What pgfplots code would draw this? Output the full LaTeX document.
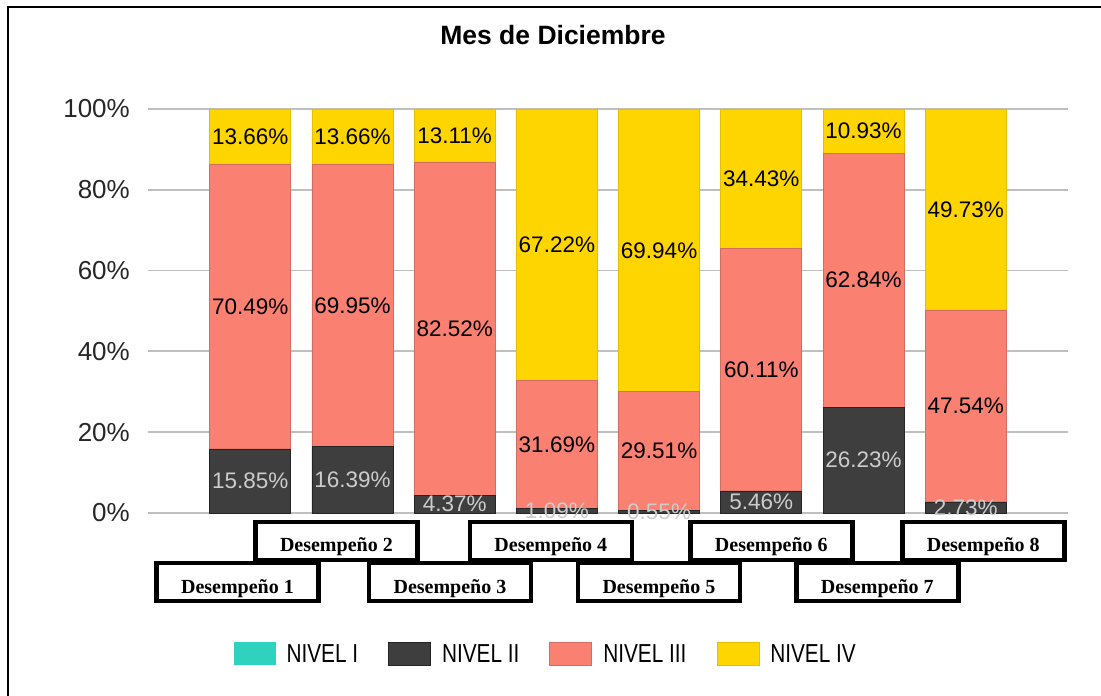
\documentclass[border=0pt]{standalone}
\usepackage{fontspec}
\setmainfont{Liberation Sans}
\newfontfamily\serifb{Liberation Serif}
\usepackage{graphicx}
\usepackage{pgfplots}
\usepackage{pgfplotstable}
\pgfplotsset{compat=1.18}
\definecolor{cI}{RGB}{47,210,190}
\definecolor{cII}{RGB}{62,62,62}
\definecolor{cIII}{RGB}{250,128,114}
\definecolor{cIV}{RGB}{255,213,0}

% values of each level
\pgfplotstableread{
x I II III IV
1 0 15.85 70.49 13.66
2 0 16.39 69.95 13.66
3 0 4.37 82.52 13.11
4 0 1.09 31.69 67.22
5 0 0.55 29.51 69.94
6 0 5.46 60.11 34.43
7 0 26.23 62.84 10.93
8 0 2.73 47.54 49.73
}\datatab

% label positions (middle of each segment) and label texts
\pgfplotstableread{
x m2 l2 m3 l3 m4 l4
1 7.925 15.85 51.095 70.49 93.17 13.66
2 8.195 16.39 51.365 69.95 93.17 13.66
3 2.185 4.37 45.63 82.52 93.445 13.11
4 0.545 1.09 16.935 31.69 66.39 67.22
5 0.275 0.55 15.305 29.51 65.03 69.94
6 2.73 5.46 35.515 60.11 82.785 34.43
7 13.115 26.23 57.65 62.84 94.535 10.93
8 1.365 2.73 26.5 47.54 75.135 49.73
}\labtab

\pgfplotsset{lab/.style={only marks, mark=*, mark size=0pt, mark options={draw=none, fill=none},
  point meta=explicit symbolic,
  nodes near coords={\pgfplotspointmeta\%},
  every node near coord/.append style={anchor=center, font=\fontsize{22.5}{26}\selectfont, inner sep=0pt}}}

\begin{document}
\begin{tikzpicture}[x=1pt,y=1pt]
\path[use as bounding box] (0,0) rectangle (1101,696);
\draw[line width=2pt] (8,0) -- (8,689) -- (1101,689);
\node[font=\fontsize{26.5}{30}\selectfont\bfseries] at (553,661) {Mes de Diciembre};
\begin{axis}[
  at={(148pt,183pt)}, anchor=south west, scale only axis,
  width=920pt, height=404pt,
  ybar stacked, bar width=81pt,
  xmin=0, xmax=9, ymin=0, ymax=100,
  enlargelimits=false, clip=false,
  axis line style={draw=none}, major tick length=0pt,
  ymajorgrids, grid style={color=gray!50, line width=1.8pt},
  ytick={0,20,40,60,80,100},
  yticklabels={0\%,20\%,40\%,60\%,80\%,100\%},
  yticklabel style={font=\fontsize{26}{30}\selectfont, text=black!85, inner xsep=0pt, xshift=-18pt},
  xtick={0.875,1.843,2.954,3.941,4.998,6.098,7.134,8.171},
  xticklabels={Desempeño 1,Desempeño 2,Desempeño 3,Desempeño 4,Desempeño 5,Desempeño 6,Desempeño 7,Desempeño 8},
  xticklabel style={font=\serifb\bfseries\fontsize{20}{24}\selectfont, draw=black, line width=4.5pt, fill=white, inner sep=0pt, minimum width=162pt, text height=30pt, text depth=8pt, anchor=north, yshift={-48+41.25*mod(\ticknum,2)}},
  legend columns=4,
  legend style={at={(0.4312,-0.3478)}, anchor=center, draw=none, fill=none, font=\fontsize{26}{30}\selectfont, cells={anchor=west}, nodes={inner sep=0pt, text depth=0pt}, /tikz/every even column/.append style={column sep=30pt}},
  legend image code/.code={\fill[#1,/tikz/.cd] (0pt,-11.5pt) rectangle (42pt,11.5pt); \path (53pt,0pt);},
]
\addplot[fill=cI, draw=none] table[x=x,y=I] \datatab;
\addplot[fill=cII, draw=cII!60!black, line width=0.8pt] table[x=x,y=II] \datatab;
\addplot[fill=cIII, draw=cIII!85!black, line width=0.8pt] table[x=x,y=III] \datatab;
\addplot[fill=cIV, draw=cIV!90!black, line width=0.8pt] table[x=x,y=IV] \datatab;
\legend{\scalebox{0.8}[1]{NIVEL I},\scalebox{0.8}[1]{NIVEL II},\scalebox{0.8}[1]{NIVEL III},\scalebox{0.8}[1]{NIVEL IV}}
\end{axis}
\begin{axis}[
  at={(148pt,183pt)}, anchor=south west, scale only axis,
  width=920pt, height=404pt,
  xmin=0, xmax=9, ymin=0, ymax=100,
  enlargelimits=false, clip=false, hide axis,
]
\addplot[lab, every node near coord/.append style={text=white!80!black}] table[x=x,y=m2,meta=l2] \labtab;
\addplot[lab, every node near coord/.append style={text=black}] table[x=x,y=m3,meta=l3] \labtab;
\addplot[lab, every node near coord/.append style={text=black}] table[x=x,y=m4,meta=l4] \labtab;
\end{axis}
\end{tikzpicture}
\end{document}
